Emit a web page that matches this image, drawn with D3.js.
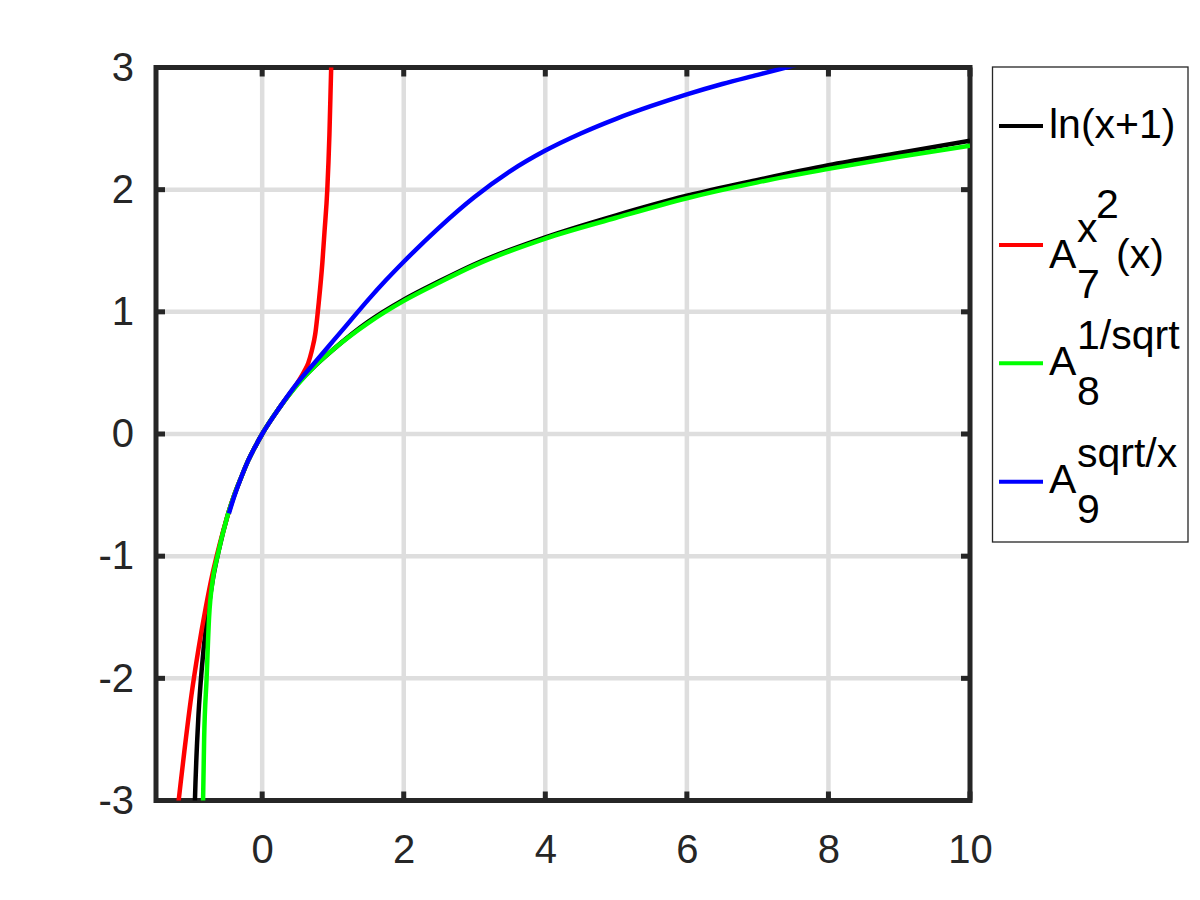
<!DOCTYPE html>
<html>
<head>
<meta charset="utf-8">
<script src="https://cdn.jsdelivr.net/npm/d3@7"></script>
<style>
  html, body { margin: 0; padding: 0; background: #ffffff; }
  svg { display: block; }
</style>
</head>
<body>
<svg id="chart" width="1200" height="900"></svg>
<script>
// ---------------- data ----------------
const xTicks = [0, 2, 4, 6, 8, 10];
const yTicks = [-3, -2, -1, 0, 1, 2, 3];
const xDomain = [-1.5, 10];
const yDomain = [-3, 3];

// ln(x+1)  (black)
const lnX = [-0.97, -0.95, -0.92, -0.9, -0.85, -0.8, -0.75, -0.7, -0.6, -0.5, -0.4, -0.3, -0.2, -0.1, 0, 0.25, 0.5, 0.75, 1, 1.5, 2, 2.5, 3, 4, 5, 6, 7, 8, 9, 10];
const lnY = [-3.5, -3.0, -2.53, -2.30, -1.90, -1.61, -1.39, -1.20, -0.92, -0.69, -0.51, -0.36, -0.22, -0.105, 0, 0.22, 0.41, 0.56, 0.69, 0.92, 1.10, 1.25, 1.39, 1.61, 1.79, 1.95, 2.08, 2.20, 2.30, 2.40];

// A7^{x^2}(x)  (red)
const a7X = [-1.2, -1.18, -1.1, -1.0, -0.9, -0.8, -0.7, -0.6, -0.5, -0.4, -0.3, -0.2, -0.1, 0, 0.25, 0.5, 0.6, 0.65, 0.7, 0.75, 0.8, 0.85, 0.88, 0.92, 0.95, 0.975, 0.99];
const a7Y = [-3.1, -3.0, -2.6, -2.14, -1.76, -1.43, -1.14, -0.90, -0.69, -0.51, -0.36, -0.22, -0.105, 0, 0.22, 0.42, 0.52, 0.58, 0.68, 0.82, 1.08, 1.40, 1.65, 2.0, 2.45, 3.0, 3.3];

// A8^{1/sqrt}  (green)
const a8X = [-0.845, -0.835, -0.82, -0.785, -0.75, -0.7, -0.632, -0.5, -0.4, -0.3, -0.2, -0.1, 0, 0.25, 0.5, 0.75, 1, 1.5, 2, 2.5, 3, 4, 5, 6, 7, 8, 9, 10];
const a8Y = [-3.4, -3.0, -2.5, -2.0, -1.5, -1.2, -1.0, -0.69, -0.51, -0.36, -0.22, -0.105, 0, 0.22, 0.405, 0.56, 0.69, 0.91, 1.09, 1.24, 1.38, 1.60, 1.77, 1.93, 2.06, 2.17, 2.27, 2.36];

// A9^{sqrt/x}  (blue)
const a9X = [-0.47, -0.4, -0.3, -0.2, -0.1, 0, 0.25, 0.5, 0.75, 1.0, 1.25, 1.5, 1.75, 2.0, 2.5, 3, 3.5, 4, 4.5, 5, 5.5, 6, 6.5, 7, 7.4, 7.6];
const a9Y = [-0.65, -0.52, -0.36, -0.22, -0.105, 0, 0.22, 0.42, 0.59, 0.76, 0.93, 1.10, 1.26, 1.41, 1.69, 1.94, 2.15, 2.32, 2.46, 2.58, 2.685, 2.78, 2.865, 2.94, 3.0, 3.03];

const seriesNames = ["ln", "a7", "a8", "a9"];
const seriesColors = ["#000000", "#ff0000", "#00ff00", "#0000ff"];
const seriesXs = [lnX, a7X, a8X, a9X];
const seriesYs = [lnY, a7Y, a8Y, a9Y];

// legend labels: base text with optional sub / sup / sup-sup / tail
const legendLabels = [
  { base: "ln(x+1)" },
  { base: "A", sub: "7", sup: "x", supsup: "2", tail: "(x)" },
  { base: "A", sub: "8", sup: "1/sqrt" },
  { base: "A", sub: "9", sup: "sqrt/x" }
];

// ---------------- drawing ----------------
const svg = d3.select("#chart");
const pL = 156, pR = 970, pT = 67.5, pB = 800.5;
const x = d3.scaleLinear().domain(xDomain).range([pL, pR]);
const y = d3.scaleLinear().domain(yDomain).range([pB, pT]);
const axisColor = "#262626";
const fontFamily = "'Liberation Sans', Arial, Helvetica, sans-serif";

// grid
const grid = svg.append("g").attr("stroke", "#dedede").attr("stroke-width", 4.5);
grid.selectAll("line.gx").data(xTicks).join("line").attr("class", "gx")
  .attr("x1", d => x(d)).attr("x2", d => x(d))
  .attr("y1", pT).attr("y2", pB);
grid.selectAll("line.gy").data(yTicks).join("line").attr("class", "gy")
  .attr("y1", d => y(d)).attr("y2", d => y(d))
  .attr("x1", pL).attr("x2", pR);

// frame
svg.append("rect")
  .attr("x", pL).attr("y", pT)
  .attr("width", pR - pL).attr("height", pB - pT)
  .attr("fill", "none").attr("stroke", axisColor).attr("stroke-width", 5);

// inward tick marks on all four sides
const tickLen = 9;
const tk = svg.append("g").attr("stroke", axisColor).attr("stroke-width", 5);
xTicks.forEach(v => {
  tk.append("line").attr("x1", x(v)).attr("x2", x(v)).attr("y1", pB).attr("y2", pB - tickLen);
  tk.append("line").attr("x1", x(v)).attr("x2", x(v)).attr("y1", pT).attr("y2", pT + tickLen);
});
yTicks.forEach(v => {
  tk.append("line").attr("y1", y(v)).attr("y2", y(v)).attr("x1", pL).attr("x2", pL + tickLen);
  tk.append("line").attr("y1", y(v)).attr("y2", y(v)).attr("x1", pR).attr("x2", pR - tickLen);
});

// tick labels through d3 axes
const xAxis = svg.append("g").attr("transform", `translate(0,${pB})`)
  .call(d3.axisBottom(x).tickValues(xTicks).tickSize(0).tickPadding(34).tickFormat(d3.format("d")));
const yAxis = svg.append("g").attr("transform", `translate(${pL},0)`)
  .call(d3.axisLeft(y).tickValues(yTicks).tickSize(0).tickPadding(22).tickFormat(d => d < 0 ? "-" + Math.abs(d) : String(d)));
[xAxis, yAxis].forEach(g => {
  g.select(".domain").remove();
  g.selectAll("text").attr("font-family", fontFamily).attr("font-size", 40).attr("fill", axisColor);
});

// curves
svg.append("clipPath").attr("id", "plotClip")
  .append("rect").attr("x", pL).attr("y", pT).attr("width", pR - pL).attr("height", pB - pT);
const line = d3.line().x(d => x(d[0])).y(d => y(d[1])).curve(d3.curveMonotoneX);
const curves = svg.append("g").attr("clip-path", "url(#plotClip)");
seriesNames.forEach((name, i) => {
  const pts = seriesXs[i].map((v, j) => [v, seriesYs[i][j]]);
  curves.append("path").datum(pts)
    .attr("d", line)
    .attr("fill", "none")
    .attr("stroke", seriesColors[i])
    .attr("stroke-width", 4.5)
    .attr("stroke-linejoin", "round");
});

// legend
const lg = svg.append("g");
lg.append("rect").attr("x", 992.5).attr("y", 67).attr("width", 195.5).attr("height", 475)
  .attr("fill", "#ffffff").attr("stroke", "#262626").attr("stroke-width", 1.3);
const entryY = [126, 245, 363.3, 481.7];
legendLabels.forEach((lab, i) => {
  const ly = entryY[i];
  lg.append("line").attr("x1", 999).attr("x2", 1043).attr("y1", ly).attr("y2", ly)
    .attr("stroke", seriesColors[i]).attr("stroke-width", 4);
  const base = lab.tail ? ly + 23 : ly + 11.5;
  const t = (str, tx, ty) => lg.append("text").attr("x", tx).attr("y", ty).text(str)
    .attr("font-family", fontFamily).attr("font-size", 41).attr("fill", "#000000");
  t(lab.base, 1049, base);
  if (lab.sup) t(lab.sup, 1077, base - 26);
  if (lab.supsup) t(lab.supsup, 1096, base - 50);
  if (lab.sub) t(lab.sub, 1077, base + 30);
  if (lab.tail) t(lab.tail, 1116, base);
});
</script>
</body>
</html>
